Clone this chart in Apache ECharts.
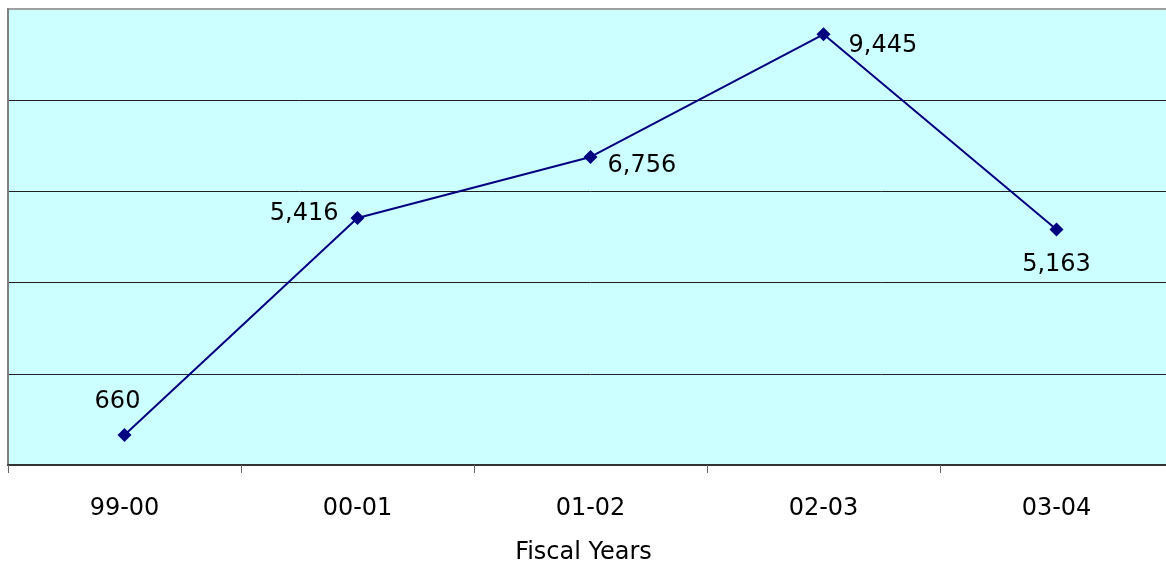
<!DOCTYPE html>
<html>
<head>
<meta charset="utf-8">
<script src="https://cdn.jsdelivr.net/npm/echarts@6/dist/echarts.min.js"></script>
<style>
html,body{margin:0;padding:0;background:#fff;overflow:hidden;width:1166px;height:570px;}
#chart{width:1173px;height:570px;}
</style>
</head>
<body>
<div id="chart"></div>
<script>
const categories = ['99-00', '00-01', '01-02', '02-03', '03-04'];
const values = [660, 5416, 6756, 9445, 5163];
const axisName = 'Fiscal Years';

const labelPlacements = [
  { position: 'top', distance: 14, offset: [-7, 0] },
  { position: 'left', distance: 12, offset: [0, -4] },
  { position: 'right', distance: 10, offset: [0, 9] },
  { position: 'right', distance: 18, offset: [0, 11] },
  { position: 'bottom', distance: 16, offset: [0, 0] }
];

const FONT = '"DejaVu Sans", Verdana, sans-serif';

const chart = echarts.init(document.getElementById('chart'));
chart.setOption({
  animation: false,
  backgroundColor: '#ffffff',
  grid: {
    left: 8, top: 9, right: 0, height: 457,
    show: true, backgroundColor: '#CCFFFF',
    borderColor: '#a0a0a0', borderWidth: 2,
    containLabel: false
  },
  xAxis: {
    type: 'category',
    data: categories,
    boundaryGap: true,
    axisLine: { lineStyle: { color: '#333333', width: 2 } },
    axisTick: { show: true, interval: 0, length: 8, lineStyle: { color: '#666666', width: 1 } },
    axisLabel: { color: '#000', fontSize: 24, fontFamily: FONT, margin: 32 },
    name: axisName,
    nameLocation: 'middle',
    nameGap: 76,
    nameTextStyle: { color: '#000', fontSize: 24, fontFamily: FONT, padding: [0, 14, 0, 0] }
  },
  yAxis: {
    type: 'value',
    min: 0, max: 10000, interval: 2000,
    axisLine: { show: true, lineStyle: { color: '#808080', width: 2 } },
    axisTick: { show: false },
    axisLabel: { show: false },
    splitLine: { show: true, showMinLine: false, showMaxLine: false, lineStyle: { color: '#222222', width: 1 } }
  },
  series: [{
    type: 'line',
    data: values.map((v, i) => ({
      value: v,
      label: Object.assign({ show: true }, labelPlacements[i])
    })),
    symbol: 'diamond',
    symbolSize: 14,
    lineStyle: { color: '#000080', width: 2 },
    itemStyle: { color: '#000080' },
    label: {
      show: true,
      color: '#000',
      fontSize: 24,
      fontFamily: FONT,
      formatter: p => p.value.toLocaleString('en-US')
    }
  }]
});
</script>
</body>
</html>
